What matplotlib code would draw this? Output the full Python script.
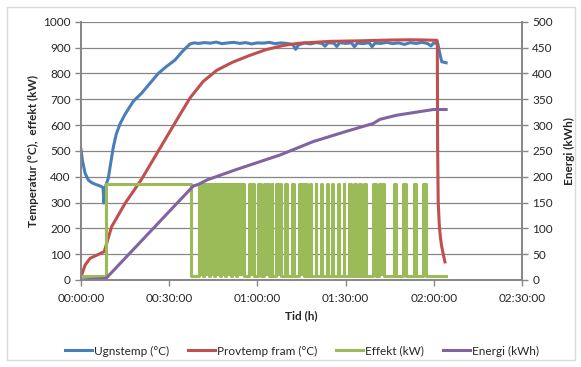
import numpy as np
import matplotlib.pyplot as plt
from matplotlib.ticker import FuncFormatter, MultipleLocator
from matplotlib.patches import Rectangle

plt.rcParams['font.family'] = ['Lato', 'DejaVu Sans']

# time in minutes
ugn_t = [0, 0.5, 1.4, 2.5, 3.6, 5.0, 6.5, 7.5, 7.8, 8.1, 8.5, 9.3, 10.0, 11.0, 12.0, 13.3, 15.0,
         17.8, 20.6, 23.5, 26.3, 29.0, 32.0, 34.5, 37.1, 38.5,
         40, 42, 44, 46, 48, 50, 52, 54, 56, 58, 60, 62, 64, 66, 68, 70, 72, 73, 74,
         76, 78, 80, 82, 83, 84, 86, 87, 88, 90, 92, 93, 94, 96, 98, 99, 100, 102,
         104, 106, 108, 110, 112, 114, 116, 118, 119, 120, 121.4, 121.9, 122.7, 124.2]
ugn_v = [505, 462, 413, 387, 377, 370, 364, 358, 298, 350, 368, 395, 445, 515, 565, 605, 642,
         692, 723, 762, 800, 826, 852, 885, 914, 918,
         916, 919, 917, 921, 915, 918, 920, 916, 919, 914, 918, 917, 920, 915, 918, 916, 912, 893, 910,
         918, 914, 919, 916, 905, 918, 917, 904, 919, 916, 918, 903, 917, 915, 919, 903, 917, 916,
         920, 915, 918, 912, 919, 916, 920, 915, 906, 918, 914, 884, 845, 841]

prov_t = [0.2, 1.4, 3.1, 5.9, 7.9, 8.4, 10.4, 15.0, 20.6, 25.7, 29.1, 33.0, 37.1, 41.5,
          46.2, 51.5, 57.5, 63.0, 68.8, 74.5, 85, 95, 105, 112, 118, 121.0, 121.2,
          121.3, 121.5, 121.9, 122.3, 122.7, 123.3, 123.8]
prov_v = [19, 58, 84, 99, 110, 129, 206, 297, 390, 488, 553, 628, 705, 768,
          812, 843, 870, 892, 908, 917, 924, 926, 929, 930, 929, 928, 925,
          520, 300, 206, 160, 129, 95, 70]

effekt_on = 372
effekt_off = 15
effekt_end = 124.2
effekt_block = (8.5, 37.3)
# clusters of fast on/off switching after the heat-up
effekt_pulses = [(40.1, 41.6), (41.9, 43.5), (43.8, 45.4), (45.7, 47.2),
                 (47.5, 49.0), (49.3, 50.9), (51.2, 52.8), (53.1, 55.4), (57.3, 58.8),
                 (60.2, 61.1), (62.2, 63.9), (64.9, 65.1), (66.2, 67.9), (69.3, 70.1),
                 (71.8, 72.4), (74.3, 75.8), (76.5, 76.8), (77.9, 78.2), (79.8, 80.1),
                 (81.7, 82.0), (83.6, 83.9), (85.4, 85.7), (87.4, 87.7), (89.3, 89.6),
                 (91.1, 91.7), (93.0, 93.4), (94.7, 95.1), (96.4, 96.8), (99.3, 100.2),
                 (101.3, 103.0), (106.3, 107.0), (109.5, 110.4), (113.1, 113.8),
                 (116.3, 117.2)]

energi_t = [0, 8.5, 38.2, 39.9, 43, 52.4, 67.7, 79, 90.4, 99.4, 101.7, 107.4, 115.3, 119.8, 124.2]
energi_v = [0, 3, 182, 185, 194, 213, 242, 268, 288, 303, 311, 319, 326, 330, 330]

x_ticks = [0, 30, 60, 90, 120, 150]

# step series for the heater power
eff_t = [0]
eff_v = [effekt_off]
for a, b in [effekt_block] + effekt_pulses:
    eff_t += [a, a, b, b]
    eff_v += [effekt_off, effekt_on, effekt_on, effekt_off]
eff_t.append(effekt_end)
eff_v.append(effekt_off)

blue = '#4a7ebb'
red = '#c0504d'
green = '#9bbb59'
purple = '#8064a2'
grey = '#868686'
txt = '#262626'

fig = plt.figure(figsize=(5.81, 3.67), dpi=100)
fig.patches.append(Rectangle((7 / 581, 7 / 367), 568 / 581, 353 / 367, transform=fig.transFigure,
                             fill=False, edgecolor='#d9d9d9', lw=1))
ax = fig.add_axes([81 / 581, 1 - 280 / 367, 441 / 581, 258.3 / 367])
ax2 = ax.twinx()

l1, = ax.plot(ugn_t, ugn_v, color=blue, lw=2.2, label='Ugnstemp (°C)')
l2, = ax.plot(prov_t, prov_v, color=red, lw=2.2, label='Provtemp fram (°C)')
l3, = ax.plot(eff_t, eff_v, color=green, lw=2.2, label='Effekt (kW)')
for a, b in effekt_pulses:
    ax.fill_between([a, b], effekt_off, effekt_on, color=green, lw=0)
l4, = ax2.plot(energi_t, energi_v, color=purple, lw=2.2, label='Energi (kWh)')

ax.set_xlim(0, 150)
ax.set_ylim(0, 1000)
ax2.set_ylim(0, 500)
ax.set_xticks(x_ticks)
ax.xaxis.set_major_formatter(FuncFormatter(lambda v, p: '%02d:%02d:00' % (v // 60, v % 60)))
ax.yaxis.set_major_locator(MultipleLocator(100))
ax2.yaxis.set_major_locator(MultipleLocator(50))
ax.yaxis.grid(True, color=grey, lw=0.9)
ax.set_axisbelow(True)

for a in (ax, ax2):
    a.spines['top'].set_visible(False)
    for s in ('left', 'right', 'bottom'):
        a.spines[s].set_color(grey)
        a.spines[s].set_linewidth(1.2)
    a.tick_params(colors=grey, labelcolor=txt, labelsize=8.5, length=4, width=1)
ax.tick_params(axis='x', pad=5)

ax.set_xlabel('Tid (h)', fontsize=8.5, fontweight='bold', color=txt, labelpad=5)
ax.set_ylabel('Temperatur (°C),  effekt (kW)', fontsize=8.5, fontweight='bold', color=txt, labelpad=3)
ax2.set_ylabel('Energi (kWh)', fontsize=8.5, fontweight='bold', color=txt, labelpad=8)

fig.legend(handles=[l1, l2, l3, l4], loc='center', bbox_to_anchor=(302 / 581, 1 - 351 / 367),
           ncol=4, frameon=False, fontsize=8.5, handlelength=2.3, handletextpad=0.15,
           columnspacing=1.6, labelcolor=txt)

fig.savefig('out.png', dpi=100)
